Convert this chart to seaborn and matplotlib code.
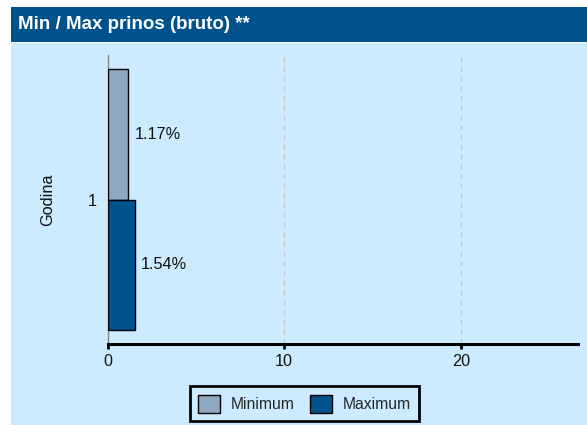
import pandas as pd
import seaborn as sns
import matplotlib.pyplot as plt
from matplotlib.patches import Rectangle

# data
years = ["1", "1"]
series = ["Minimum", "Maximum"]
values = [1.17, 1.54]

title = "Min / Max prinos (bruto) **"
bg = "#CCEBFF"
dark_blue = "#00528C"
colors = {"Minimum": "#8FA8C2", "Maximum": dark_blue}

df = pd.DataFrame({"Godina": years, "serie": series, "value": values})

sns.set_theme(style="white")
plt.rcParams["font.family"] = ["Liberation Sans", "DejaVu Sans"]
fs = 11.7

fig = plt.figure(figsize=(5.87, 4.25), dpi=100, facecolor="white")

# panel background and title bar
fig.patches.append(Rectangle((11 / 587, 0), 1, (425 - 43) / 425,
                             transform=fig.transFigure, facecolor=bg,
                             edgecolor="none", zorder=-10))
fig.patches.append(Rectangle((11 / 587, (425 - 42) / 425), 1, 35 / 425,
                             transform=fig.transFigure, facecolor=dark_blue,
                             edgecolor="none", zorder=-10))
fig.text(18 / 587, (425 - 24.5) / 425, title, color="white", fontsize=13.5,
         fontweight="bold", va="center", ha="left")

ax = fig.add_axes([107.5 / 587, (425 - 344) / 425, (578 - 107.5) / 587, (344 - 55) / 425])
ax.set_facecolor(bg)

sns.barplot(data=df, x="value", y="Godina", hue="serie", orient="h",
            palette=colors, saturation=1, width=0.9, edgecolor="black",
            linewidth=1, ax=ax, legend=False, zorder=3)

for cont in ax.containers:
    ax.bar_label(cont, fmt="%.2f%%", padding=4.5, fontsize=fs, color="#111111")

ax.set_xlim(0, 26.62)
ax.set_ylim(0.5, -0.5)
ax.set_xticks([0, 10, 20])
ax.grid(axis="x", color="#c8c8c8", linestyle=(0, (4, 3)), linewidth=1, zorder=0)
ax.grid(axis="y", visible=False)

for s in ["top", "right"]:
    ax.spines[s].set_visible(False)
ax.spines["left"].set_color("#888888")
ax.spines["left"].set_linewidth(1)
ax.spines["bottom"].set_color("black")
ax.spines["bottom"].set_linewidth(2.2)

ax.tick_params(axis="x", length=3.5, width=2, color="black", pad=3.5,
               labelsize=fs, labelcolor="#111111", bottom=True)
ax.tick_params(axis="y", length=0, pad=8, labelsize=fs, labelcolor="#111111")
ax.set_xlabel("")
ax.set_ylabel("Godina", fontsize=fs, labelpad=23, color="#111111")

handles = [Rectangle((0, 0), 1, 1, facecolor=colors[s], edgecolor="black", linewidth=1)
           for s in series]
leg = fig.legend(handles, series, loc="upper center",
                 bbox_to_anchor=(304.5 / 587, (425 - 386) / 425), ncol=2,
                 frameon=True, fancybox=False, fontsize=11.3, handlelength=1.4,
                 handleheight=1.4, handletextpad=0.65, columnspacing=1.0,
                 borderpad=0.55, borderaxespad=0)
leg.get_frame().set_edgecolor("black")
leg.get_frame().set_linewidth(2)
leg.get_frame().set_facecolor(bg)
leg.get_frame().set_alpha(1)

fig.savefig("out.png", dpi=100, facecolor="white")
